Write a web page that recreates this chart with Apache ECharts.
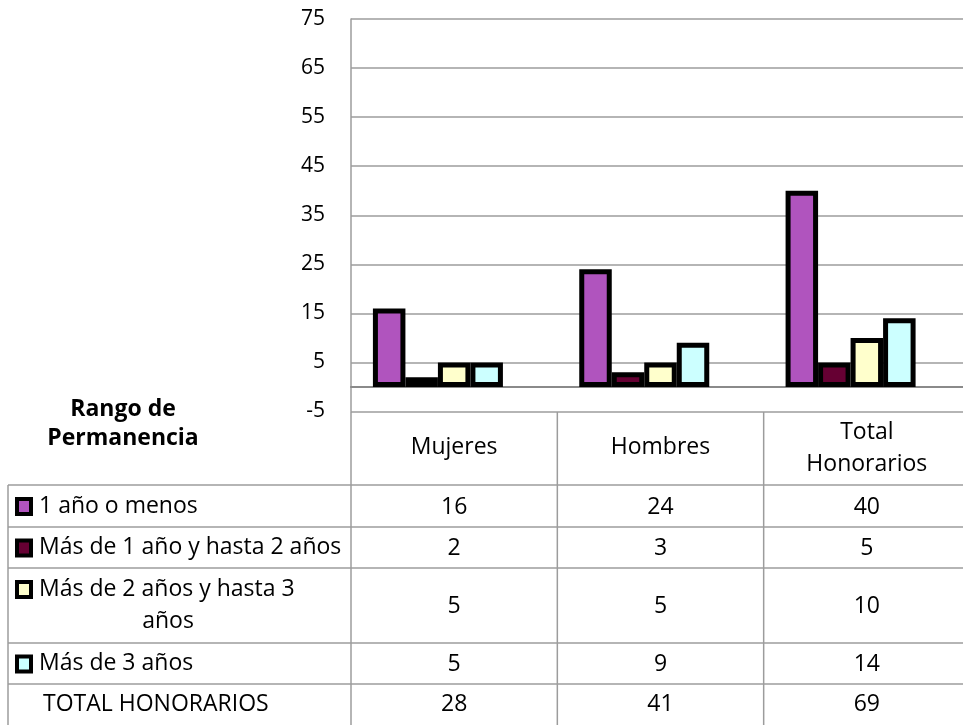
<!DOCTYPE html>
<html>
<head>
<meta charset="utf-8">
<script src="https://cdn.jsdelivr.net/npm/echarts@6/dist/echarts.min.js"></script>
</head>
<body style="margin:0; background:#fff; overflow:hidden">
<div id="container" style="width:970px; height:725px"></div>
<script>
// datos
var categorias = ['Mujeres', 'Hombres', 'Total\nHonorarios'];
var rangos = ['1 año o menos', 'Más de 1 año y hasta 2 años', 'Más de 2 años y hasta 3\naños', 'Más de 3 años'];
var unoOMenos = [16, 24, 40];
var unoADos = [2, 3, 5];
var dosATres = [5, 5, 10];
var masDeTres = [5, 9, 14];
var totales = [28, 41, 69];
var tituloTabla = ['Rango de', 'Permanencia'];
var etiquetaTotal = 'TOTAL HONORARIOS';
var colores = ['#B054BE', '#660033', '#FFFFCC', '#CCFFFF'];

var valores = [unoOMenos, unoADos, dosATres, masDeTres];
var FUENTE = '"Open Sans", sans-serif';
var GRIS = '#9C9C9C';

var dom = document.getElementById('container');
var myChart = echarts.init(dom, null, {renderer: 'canvas'});

var series = [];
for (var i = 0; i < rangos.length; i++) {
	series.push({
		name: rangos[i],
		type: 'bar',
		barWidth: 32.5,
		barGap: '0%',
		data: valores[i],
		itemStyle: {color: colores[i], borderColor: '#000', borderWidth: 5},
		silent: true
	});
}
// hueco vacio a la derecha del grupo (como en el original)
series.push({name: '', type: 'bar', barWidth: 32.5, barGap: '0%', data: [], silent: true});

var option = {
	animation: false,
	grid: {left: 351, right: 0, top: 19, bottom: 313.5},
	xAxis: {
		type: 'category',
		data: categorias,
		axisLine: {onZero: true, lineStyle: {color: '#8A8A8A', width: 2}},
		axisTick: {show: false},
		axisLabel: {show: false}
	},
	yAxis: {
		type: 'value',
		min: -5,
		max: 75,
		interval: 10,
		axisLine: {show: true, lineStyle: {color: GRIS, width: 1.5}},
		axisTick: {show: false},
		axisLabel: {color: '#000', fontSize: 21, fontFamily: FUENTE, margin: 26},
		splitLine: {lineStyle: {color: GRIS, width: 1.5}}
	},
	series: series
};
myChart.setOption(option);

// tabla de datos bajo el grafico
var filas = [485, 527, 568, 643, 684, 725];
var centros = categorias.map(function (c, i) {
	return myChart.convertToPixel({xAxisIndex: 0}, i);
});
var anchoCat = centros[1] - centros[0];
var g = [];
function linea(x1, y1, x2, y2) {
	g.push({type: 'line', silent: true, shape: {x1: x1, y1: y1, x2: x2, y2: y2},
		style: {stroke: GRIS, lineWidth: 1.5}});
}
function texto(t, x, y, align, bold) {
	g.push({type: 'text', silent: true, style: {
		text: t, x: x, y: y, fill: '#000',
		font: (bold ? 'bold ' : '') + '23px ' + FUENTE,
		textAlign: align, align: align, textVerticalAlign: 'middle', verticalAlign: 'middle'
	}});
}

for (var r = 0; r < filas.length - 1; r++) linea(8, filas[r], 970, filas[r]);
linea(8, filas[0], 8, 725);
linea(351, 412, 351, 725);
for (var c = 1; c < centros.length; c++) {
	var xb = centros[c] - anchoCat / 2;
	linea(xb, 412, xb, 725);
}

// encabezado
texto(tituloTabla[0], 123, 409, 'center', true);
texto(tituloTabla[1], 123, 438, 'center', true);
categorias.forEach(function (cat, i) {
	var partes = cat.split('\n');
	if (partes.length === 1) texto(partes[0], centros[i], 447, 'center');
	else {
		texto(partes[0], centros[i], 432, 'center');
		texto(partes[1], centros[i], 464, 'center');
	}
});

// filas por rango
rangos.forEach(function (nombre, k) {
	var top = filas[k], bot = filas[k + 1];
	var mid = (top + bot) / 2;
	var partes = nombre.split('\n');
	var yTexto = partes.length > 1 ? top + 21 : mid;
	g.push({type: 'rect', silent: true, shape: {x: 17, y: yTexto - 7, width: 14, height: 15},
		style: {fill: colores[k], stroke: '#000', lineWidth: 4}});
	texto(partes[0], 39, yTexto, 'left');
	if (partes.length > 1) texto(partes[1], 168, yTexto + 32, 'center');
	valores[k].forEach(function (v, i) {
		texto(String(v), centros[i], mid + 1, 'center');
	});
});

// fila total
var midT = (filas[4] + filas[5]) / 2;
texto(etiquetaTotal, 43, midT, 'left');
totales.forEach(function (v, i) {
	texto(String(v), centros[i], midT, 'center');
});

myChart.setOption({graphic: {elements: g}});
</script>
</body>
</html>
